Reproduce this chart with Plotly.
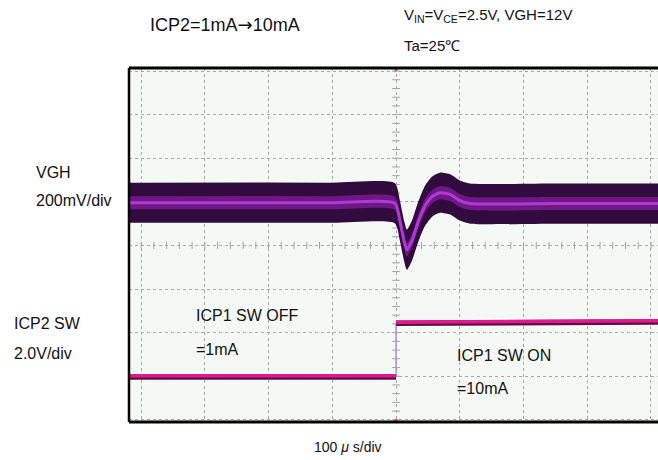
import plotly.graph_objects as go

# ---- data (time in divisions, 100 us/div; level in divisions) ----
vgh_t = [-4.19, -1.0, -0.02, 0.06, 0.125, 0.17, 0.25, 0.345, 0.455, 0.565, 0.69, 0.85, 1.0, 1.16, 2.5, 4.11]
vgh_center = [0.98, 0.98, 0.97, 0.57, 0.11, -0.10, 0.11, 0.53, 0.91, 1.12, 1.21, 1.17, 1.03, 0.96, 0.96, 0.96]
vgh_noise_half = 0.46      # half peak-to-peak of switching ripple (div)
vgh_core_half = 0.15       # denser inner part of the ripple (div)

sw_t_off = [-4.19, 0.0]
sw_off_level = [-3.0, -3.0]
sw_t_on = [0.0, 4.11]
sw_on_level = [-1.77, -1.74]

x_range = [-4.19, 4.11]
y_range = [-4.05, 4.07]

fig = go.Figure()

def band(t, c, half, color):
    lo = [v - half for v in c]
    hi = [v + half for v in c]
    fig.add_trace(go.Scatter(x=t, y=lo, mode="lines", line=dict(width=0, shape="spline", smoothing=0.6, color=color),
                             showlegend=False, hoverinfo="skip"))
    fig.add_trace(go.Scatter(x=t, y=hi, mode="lines", fill="tonexty", fillcolor=color,
                             line=dict(width=0, shape="spline", smoothing=0.6, color=color),
                             showlegend=False, hoverinfo="skip"))

band(vgh_t, vgh_center, vgh_noise_half, "#320b3e")
band(vgh_t, vgh_center, vgh_core_half, "#6e1886")
fig.add_trace(go.Scatter(x=vgh_t, y=vgh_center, mode="lines",
                         line=dict(color="#b238d6", width=3, shape="spline", smoothing=0.6),
                         showlegend=False, hoverinfo="skip"))

# ICP2 SW
fig.add_trace(go.Scatter(x=[sw_t_off[1], sw_t_on[0]], y=[sw_off_level[1], sw_on_level[0]], mode="lines",
                         line=dict(color="#b890c8", width=1.5), showlegend=False, hoverinfo="skip"))
for tt, lv in ((sw_t_off, sw_off_level), (sw_t_on, sw_on_level)):
    fig.add_trace(go.Scatter(x=tt, y=[v - 0.015 for v in lv], mode="lines",
                             line=dict(color="#5a1040", width=5.5), showlegend=False, hoverinfo="skip"))
    fig.add_trace(go.Scatter(x=tt, y=[v + 0.01 for v in lv], mode="lines",
                             line=dict(color="#e3178f", width=3.5), showlegend=False, hoverinfo="skip"))

# trigger markers
fig.add_trace(go.Scatter(x=[0, 0], y=[y_range[1] - 0.02, y_range[0] + 0.02], mode="markers",
                         marker=dict(symbol=["triangle-down", "triangle-up"], size=6, color="#f05a1e"),
                         cliponaxis=False, showlegend=False, hoverinfo="skip"))

shapes = []
# minor ticks on centre lines
k = -20
while k <= 20:
    v = k * 0.2
    if y_range[0] < v < y_range[1]:
        shapes.append(dict(type="line", x0=-0.06, x1=0.06, y0=v, y1=v, line=dict(color="#a0a0a0", width=1), layer="below"))
    if x_range[0] < v < x_range[1]:
        shapes.append(dict(type="line", x0=v, x1=v, y0=-0.08, y1=0.08, line=dict(color="#a0a0a0", width=1), layer="below"))
    k += 1
# frame
shapes.append(dict(type="line", xref="paper", yref="paper", x0=0, x1=1, y0=1, y1=1, line=dict(color="black", width=3)))
shapes.append(dict(type="line", xref="paper", yref="paper", x0=0, x1=1, y0=0, y1=0, line=dict(color="black", width=3)))
shapes.append(dict(type="line", xref="paper", yref="paper", x0=0, x1=0, y0=0, y1=1, line=dict(color="black", width=2.5)))

W, H = 658, 460
ML, MR, MT, MB = 129, 0, 68, 38
PW, PH = W - ML - MR, H - MT - MB

font = "Liberation Sans, Arial, sans-serif"
ann = []
def px(x, y, s, size, anchor="left"):
    ann.append(dict(x=(x - ML) / PW, y=((H - MB) - y) / PH, xref="paper", yref="paper", text=s, showarrow=False,
                    xanchor=anchor, yanchor="middle", font=dict(family=font, size=size, color="#111")))

px(148, 25, "ICP2=1mA<span style=\"font-family:'DejaVu Sans'\">→</span>10mA", 18)
px(402, 15, "V<sub>IN</sub>=V<sub>CE</sub>=2.5V, VGH=12V", 15)
px(402, 45, "Ta=25℃", 15)
px(34, 172, "VGH", 16)
px(34, 200, "200mV/div", 16)
px(12, 323, "ICP2 SW", 16)
px(12, 353, "2.0V/div", 16)
px(194, 315, "ICP1 SW OFF", 16)
px(194, 349, "=1mA", 16)
px(455, 355, "ICP1 SW ON", 16)
px(455, 388, "=10mA", 16)
px(348, 447, "100 <i>μ</i> s/div", 14, "center")

fig.update_layout(
    width=W, height=H,
    margin=dict(l=ML, r=MR, t=MT, b=MB),
    paper_bgcolor="white", plot_bgcolor="#f5f9f6",
    shapes=shapes, annotations=ann, showlegend=False,
)
fig.update_xaxes(range=x_range, tick0=0, dtick=1, showgrid=True, gridcolor="#a8a8a8", griddash="dot",
                 gridwidth=1, zeroline=False, showticklabels=False, ticks="", fixedrange=True)
fig.update_yaxes(range=y_range, tick0=0, dtick=1, showgrid=True, gridcolor="#a8a8a8", griddash="dot",
                 gridwidth=1, zeroline=False, showticklabels=False, ticks="", fixedrange=True)

fig.write_html("out.html", config={"displayModeBar": False},
               post_script="document.body.style.margin='0';document.body.style.padding='0';")
